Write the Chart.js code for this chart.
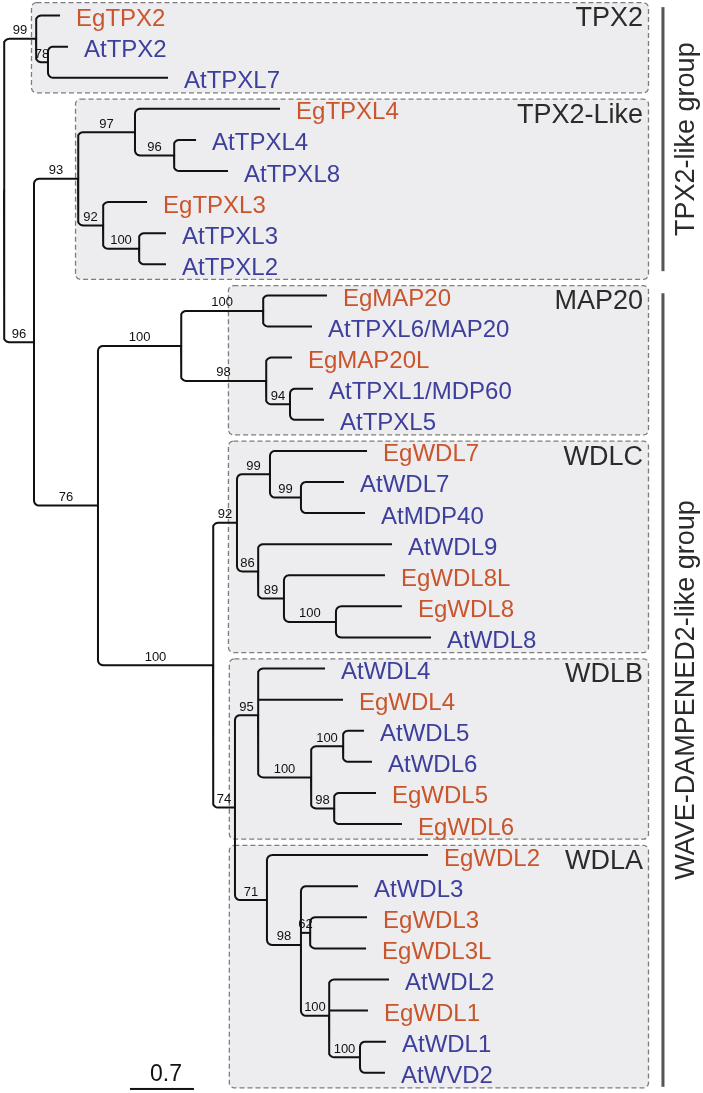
<!DOCTYPE html>
<html>
<head>
<meta charset="utf-8">
<title>TPX2 / WDL phylogeny</title>
<script src="https://cdn.jsdelivr.net/npm/chart.js@4.4.0/dist/chart.umd.min.js"></script>
<style>
  html, body { margin: 0; padding: 0; background: #fff; }
  canvas { display: block; }
</style>
</head>
<body>
<canvas id="tree" width="703" height="1093"></canvas>
<script>
// tips, top to bottom
const tipNames = ['EgTPX2', 'AtTPX2', 'AtTPXL7',
  'EgTPXL4', 'AtTPXL4', 'AtTPXL8', 'EgTPXL3', 'AtTPXL3', 'AtTPXL2',
  'EgMAP20', 'AtTPXL6/MAP20', 'EgMAP20L', 'AtTPXL1/MDP60', 'AtTPXL5',
  'EgWDL7', 'AtWDL7', 'AtMDP40', 'AtWDL9', 'EgWDL8L', 'EgWDL8', 'AtWDL8',
  'AtWDL4', 'EgWDL4', 'AtWDL5', 'AtWDL6', 'EgWDL5', 'EgWDL6',
  'EgWDL2', 'AtWDL3', 'EgWDL3', 'EgWDL3L', 'AtWDL2', 'EgWDL1', 'AtWDL1', 'AtWVD2'];
// distance of each tip from the root
const tipDepths = [0.613, 0.700, 1.794,
  3.020, 2.101, 2.451, 1.565, 1.772, 1.772,
  3.534, 3.370, 3.151, 3.381, 3.501,
  3.972, 3.720, 3.950, 4.245, 4.168, 4.354, 4.672,
  3.512, 3.709, 3.939, 4.026, 4.070, 4.354,
  4.639, 3.873, 3.972, 3.961, 4.212, 3.982, 4.179, 4.168];

// internal nodes
const nodeIds = ['root', 'n99', 'n78', 'n96', 'n93', 'n97', 'n96b', 'n92', 'n100a',
  'n76', 'n100b', 'n100m', 'n98m', 'n94', 'n100c', 'n92c', 'n99c', 'n99d', 'n86',
  'n89', 'n100d', 'n74', 'n95', 'n100e', 'n100f', 'n98b', 'n71', 'n98c', 'n62',
  'n100g', 'n100h'];
const nodeDepths = [0, 0.350, 0.481, 0.328, 0.810, 1.433, 1.860, 1.083, 1.477,
  1.028, 1.937, 2.834, 2.867, 3.129, 2.287, 2.549, 2.910, 3.249, 2.779,
  3.063, 3.632, 2.527, 2.779, 3.359, 3.709, 3.611, 2.877, 3.249, 3.348,
  3.556, 3.895];
const nodeSupport = [null, 99, 78, 96, 93, 97, 96, 92, 100,
  76, 100, 100, 98, 94, 100, 92, 99, 99, 86,
  89, 100, 74, 95, 100, 100, 98, 71, 98, 62,
  100, 100];
const nodeKids = [
  ['n99', 'n96'],
  ['EgTPX2', 'n78'],
  ['AtTPX2', 'AtTPXL7'],
  ['n93', 'n76'],
  ['n97', 'n92'],
  ['EgTPXL4', 'n96b'],
  ['AtTPXL4', 'AtTPXL8'],
  ['EgTPXL3', 'n100a'],
  ['AtTPXL3', 'AtTPXL2'],
  ['n100b', 'n100c'],
  ['n100m', 'n98m'],
  ['EgMAP20', 'AtTPXL6/MAP20'],
  ['EgMAP20L', 'n94'],
  ['AtTPXL1/MDP60', 'AtTPXL5'],
  ['n92c', 'n74'],
  ['n99c', 'n86'],
  ['EgWDL7', 'n99d'],
  ['AtWDL7', 'AtMDP40'],
  ['AtWDL9', 'n89'],
  ['EgWDL8L', 'n100d'],
  ['EgWDL8', 'AtWDL8'],
  ['n95', 'n71'],
  ['AtWDL4', 'EgWDL4', 'n100e'],
  ['n100f', 'n98b'],
  ['AtWDL5', 'AtWDL6'],
  ['EgWDL5', 'EgWDL6'],
  ['EgWDL2', 'n98c'],
  ['AtWDL3', 'n62', 'n100g'],
  ['EgWDL3', 'EgWDL3L'],
  ['AtWDL2', 'EgWDL1', 'n100h'],
  ['AtWDL1', 'AtWVD2']
];

// subfamilies and groups
const cladeNames = ['TPX2', 'TPX2-Like', 'MAP20', 'WDLC', 'WDLB', 'WDLA'];
const cladeFirst = ['EgTPX2', 'EgTPXL4', 'EgMAP20', 'EgWDL7', 'AtWDL4', 'EgWDL2'];
const cladeLast = ['AtTPXL7', 'AtTPXL2', 'AtTPXL5', 'AtWDL8', 'EgWDL6', 'AtWVD2'];
const groupNames = ['TPX2-like group', 'WAVE-DAMPENED2-like group'];
const groupFirst = ['EgTPX2', 'EgMAP20'];
const groupLast = ['AtTPXL2', 'AtWVD2'];
const scaleBarValue = 0.7;

// layout (tree units on x, tip rows on y)
const X_MIN = -0.044, X_MAX = 7.648;
const Y_MIN = -0.5, Y_MAX = 34.65;
const boxLeft = [0.295, 0.777, 2.45, 2.45, 2.46, 2.46];
const BOX_RIGHT = 7.046;
const GROUP_BAR_X = 7.21, GROUP_LABEL_X = 7.473;
const SCALE_BAR_X = 1.378;
const FONT = "'Liberation Sans', Arial, sans-serif";
const EG_COLOR = '#c9552c';
const AT_COLOR = '#3d3f9c';

// positions of every node
const xOf = {}, yOf = {}, parentOf = {};
tipNames.forEach((n, i) => { xOf[n] = tipDepths[i]; yOf[n] = i; });
nodeIds.forEach((id, i) => {
    xOf[id] = nodeDepths[i];
    nodeKids[i].forEach(c => parentOf[c] = id);
});
function nodeY(id) {
    if (id in yOf) return yOf[id];
    const kids = nodeKids[nodeIds.indexOf(id)];
    const y = kids.reduce((s, c) => s + nodeY(c), 0) / kids.length;
    yOf[id] = y;
    return y;
}
nodeIds.forEach(nodeY);

// branches (elbows slightly rounded)
const W = 703, H = 1093;
const rx = 5 * (X_MAX - X_MIN) / W;
const ry = 5 * (Y_MAX - Y_MIN) / H;
const datasets = [];
nodeIds.forEach((id, i) => {
    const kids = nodeKids[i];
    const px = xOf[id], py = yOf[id];
    kids.forEach((c, j) => {
        const cx = xOf[c], cy = yOf[c];
        const pts = [];
        if (j === 0 || j === kids.length - 1) {
            const s = Math.sign(cy - py);
            pts.push({x: px, y: py});
            for (let a = 0; a <= 4; a++) {
                const t = a * Math.PI / 8;
                pts.push({x: px + rx * (1 - Math.cos(t)), y: cy - s * ry * (1 - Math.sin(t))});
            }
        } else {
            pts.push({x: px, y: cy});
        }
        pts.push({x: cx, y: cy});
        datasets.push({
            data: pts,
            showLine: true,
            borderColor: '#111',
            borderWidth: 2,
            pointRadius: 0,
            borderCapStyle: 'butt',
            borderJoinStyle: 'round'
        });
    });
});

const treeDecor = {
    id: 'treeDecor',
    beforeDatasetsDraw(chart) {
        const ctx = chart.ctx, xs = chart.scales.x, ys = chart.scales.y;
        ctx.save();
        cladeNames.forEach((name, i) => {
            const x0 = xs.getPixelForValue(boxLeft[i]);
            const x1 = xs.getPixelForValue(BOX_RIGHT);
            const y0 = ys.getPixelForValue(yOf[cladeFirst[i]] - (i === 0 ? 0.43 : 0.33));
            const y1 = ys.getPixelForValue(yOf[cladeLast[i]] + 0.47);
            ctx.beginPath();
            ctx.roundRect(x0 + 0.5, y0 + 0.5, x1 - x0, y1 - y0, 5);
            ctx.fillStyle = '#edecee';
            ctx.fill();
            ctx.setLineDash([5, 3]);
            ctx.lineWidth = 1.3;
            ctx.strokeStyle = '#7d7d7d';
            ctx.stroke();
            ctx.setLineDash([]);
            ctx.fillStyle = '#2b2b2b';
            ctx.font = '27px ' + FONT;
            ctx.textAlign = 'right';
            ctx.textBaseline = 'alphabetic';
            ctx.fillText(name, x1 - 5, y0 + 24);
        });
        ctx.restore();
    },
    afterDatasetsDraw(chart) {
        const ctx = chart.ctx, xs = chart.scales.x, ys = chart.scales.y;
        ctx.save();
        // tip names
        ctx.font = '24px ' + FONT;
        ctx.textAlign = 'left';
        ctx.textBaseline = 'alphabetic';
        tipNames.forEach((n, i) => {
            ctx.fillStyle = n.startsWith('Eg') ? EG_COLOR : AT_COLOR;
            ctx.fillText(n, xs.getPixelForValue(tipDepths[i]) + 16, ys.getPixelForValue(i) + 10.5);
        });
        // support values
        ctx.font = '13px ' + FONT;
        ctx.textAlign = 'center';
        ctx.fillStyle = '#111';
        nodeIds.forEach((id, i) => {
            if (nodeSupport[i] == null) return;
            const p = parentOf[id];
            const x = (xs.getPixelForValue(xOf[p]) + xs.getPixelForValue(xOf[id])) / 2;
            ctx.fillText(String(nodeSupport[i]), x, ys.getPixelForValue(yOf[id]) - 4.5);
        });
        // group bars
        groupNames.forEach((g, i) => {
            const x = xs.getPixelForValue(GROUP_BAR_X);
            const y0 = ys.getPixelForValue(yOf[groupFirst[i]] - (i === 0 ? 0.27 : 0.07));
            const y1 = ys.getPixelForValue(yOf[groupLast[i]] + (i === 0 ? 0.22 : 0.45));
            ctx.fillStyle = '#555';
            ctx.fillRect(x - 1.5, y0, 3, y1 - y0);
            ctx.save();
            ctx.translate(xs.getPixelForValue(GROUP_LABEL_X), (y0 + y1) / 2);
            ctx.rotate(-Math.PI / 2);
            ctx.font = '27px ' + FONT;
            ctx.fillStyle = '#2b2b2b';
            ctx.textAlign = 'center';
            ctx.textBaseline = 'middle';
            ctx.fillText(g, 0, 0);
            ctx.restore();
        });
        // scale bar
        const sx0 = xs.getPixelForValue(SCALE_BAR_X);
        const sx1 = xs.getPixelForValue(SCALE_BAR_X + scaleBarValue);
        const sy = ys.getPixelForValue(tipNames.length - 1 + 0.52);
        ctx.fillStyle = '#111';
        ctx.fillRect(sx0, sy - 1, sx1 - sx0, 2);
        ctx.font = '23px ' + FONT;
        ctx.textAlign = 'center';
        ctx.textBaseline = 'alphabetic';
        ctx.fillText(String(scaleBarValue), (sx0 + sx1) / 2 + 4, sy - 8);
        ctx.restore();
    }
};

new Chart(document.getElementById('tree'), {
    type: 'scatter',
    data: { datasets: datasets },
    options: {
        responsive: false,
        animation: false,
        events: [],
        layout: { padding: 0 },
        plugins: { legend: { display: false }, tooltip: { enabled: false } },
        scales: {
            x: { type: 'linear', min: X_MIN, max: X_MAX, display: false },
            y: { type: 'linear', min: Y_MIN, max: Y_MAX, reverse: true, display: false }
        }
    },
    plugins: [treeDecor]
});
</script>
</body>
</html>
